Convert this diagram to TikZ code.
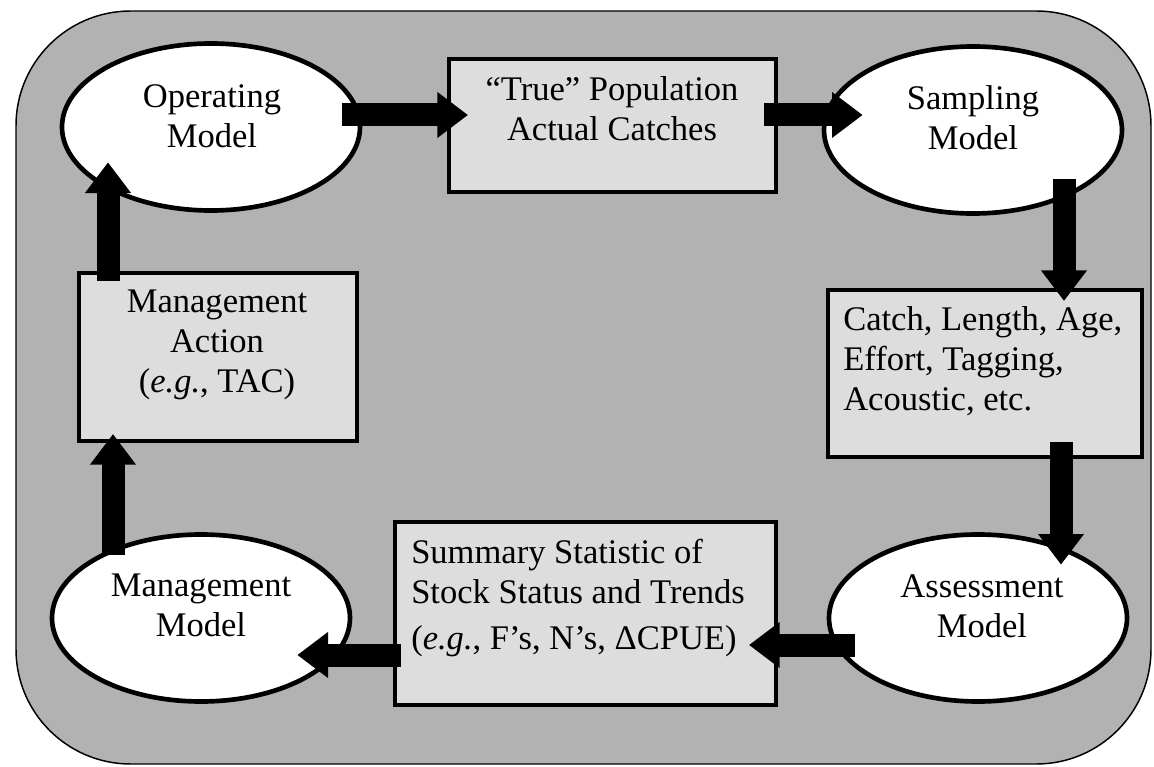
\documentclass[tikz,border=0pt]{standalone}
\usepackage{fontspec}
\setmainfont{Liberation Serif}
\usetikzlibrary{arrows.meta,calc,shapes.geometric}
\definecolor{outerg}{RGB}{178,178,178}
\definecolor{boxg}{RGB}{221,221,221}
\begin{document}
\begin{tikzpicture}[x=0.75pt,y=-0.75pt,
  ell/.style={ellipse, draw=black, line width=3.5pt, fill=white, minimum width=223.5pt, minimum height=125.25pt, inner sep=0pt},
  box/.style={rectangle, draw=black, line width=3pt, fill=boxg, inner sep=0pt},
  txt/.style={font=\fontsize{25.9pt}{30pt}\selectfont, inner sep=0pt, text=black},
  bigarrow/.style={line width=17.25pt, -{Triangle[length=23pt,width=33pt]}}
]
\useasboundingbox (0,0) rectangle (1154,767);
\fill[white] (0,0) rectangle (1154,767);
\draw[line width=1.1pt, fill=outerg, rounded corners=86pt] (16,11) rectangle (1151,764);

% shapes
\node[ell] (op) at (211,127) {};
\node[ell] (samp) at (973,130) {};
\node[ell] (mm) at (201,618) {};
\node[ell] (am) at (978,618) {};
\node[box, minimum width=245.25pt, minimum height=99.75pt] (true) at (612.5,125.5) {};
\node[box, minimum width=208.5pt, minimum height=126pt] (ma) at (218,357) {};
\node[box, minimum width=235.5pt, minimum height=125.25pt] (catch) at (985,373.5) {};
\node[box, minimum width=285.75pt, minimum height=137.25pt] (summ) at (585.5,613.5) {};

% texts
\node[txt, align=center] (opt) at (212,116) {Operating\\Model};
\node[txt, align=center] (sampt) at (973,118) {Sampling\\Model};
\node[txt, align=center] (mmt) at (201,605) {Management\\Model};
\node[txt, align=center] (amt) at (982,606) {Assessment\\Model};
\node[txt, align=center, anchor=north] (truet) at (612,76.5) {“True” Population\\Actual Catches};
\node[txt, align=center, anchor=north] (mat) at (217,289.5) {Management\\Action\\(\textit{e.g.},\ TAC)};
\node[txt, align=left, anchor=north west] (catcht) at (843,306.5) {Catch, Length, Age,\\Effort, Tagging,\\Acoustic, etc.};
\node[txt, align=left, anchor=north west] (summt) at (411,538.5) {Summary Statistic of\\Stock Status and Trends\\[4.5pt](\textit{e.g.},\ F’s, N’s, ΔCPUE)};

% arrows
\draw[bigarrow] ($(op.east)+(-20,-12)$) -- ($(true.west)+(21,-10.5)$);
\draw[bigarrow] ($(true.east)+(-14,-10.5)$) -- ($(samp.west)+(41,-15)$);
\draw[bigarrow] ($(samp.south)+(91,-36.5)$) -- ($(catch.north)+(79,13)$);
\draw[bigarrow] ($(catch.south)+(76,-17)$) -- ($(am.north)+(83,32.5)$);
\draw[bigarrow] ($(am.west)+(28,27)$) -- ($(summ.east)+(-29,31.5)$);
\draw[bigarrow] ($(summ.west)+(8,41.5)$) -- ($(mm.east)+(-55,37)$);
\draw[bigarrow] ($(mm.north)+(-88,22.5)$) -- ($(ma.south)+(-105,-9)$);
\draw[bigarrow] ($(ma.north)+(-110,10)$) -- ($(op.south)+(-103,-50.5)$);
\end{tikzpicture}
\end{document}
